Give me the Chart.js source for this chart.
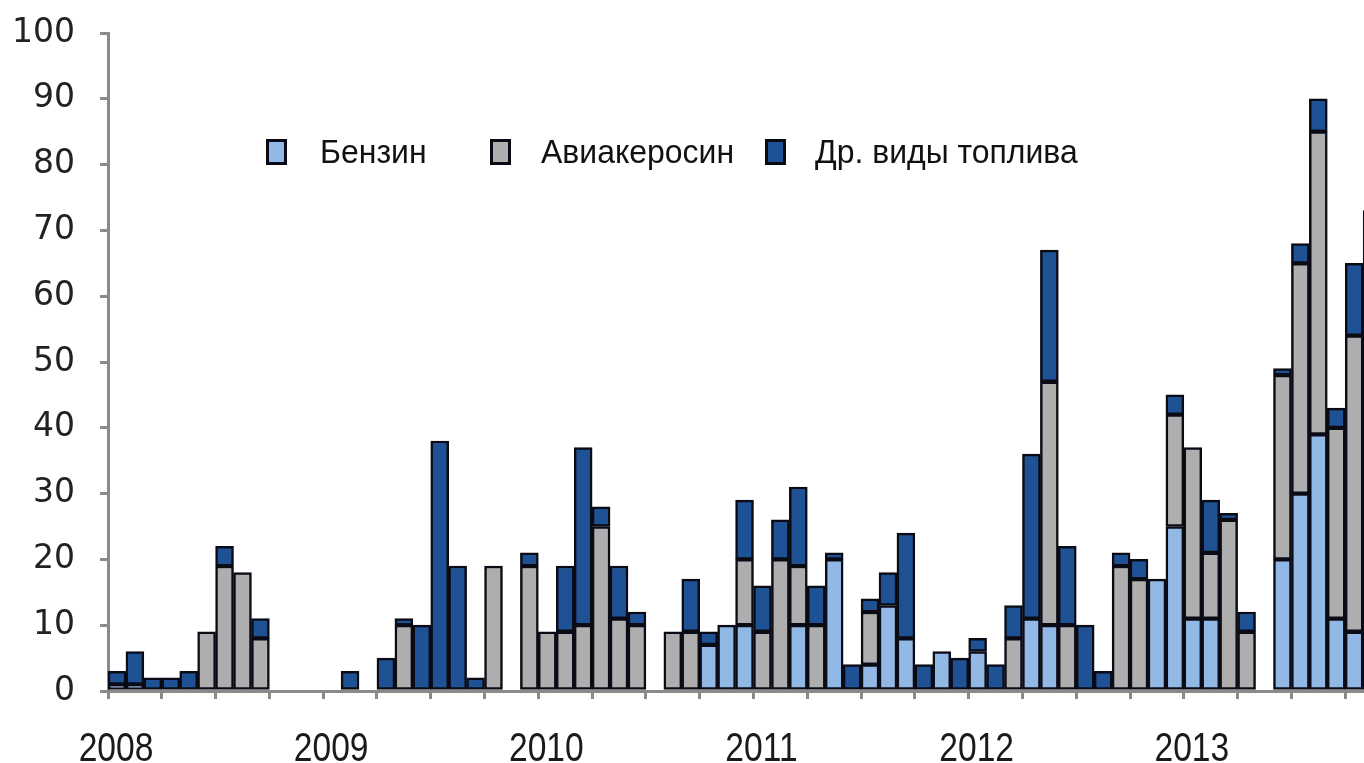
<!DOCTYPE html>
<html><head><meta charset="utf-8">
<script src="https://cdn.jsdelivr.net/npm/chart.js@4.4.1/dist/chart.umd.min.js"></script>
<style>
html,body{margin:0;padding:0;background:#fff;overflow:hidden;width:1364px;height:763px}
canvas{display:block}
</style></head>
<body><canvas id="c" width="1400" height="763"></canvas>
<script>
// Year tick labels (one every 12 months)
const years = ['2008','2009','2010','2011','2012','2013'];
const monthNames = ['01','02','03','04','05','06','07','08','09','10','11','12'];
const seriesNames = ['Бензин','Авиакеросин','Др. виды топлива'];
const seriesColors = ['#92b8e6','#aeaeae','#1f5195'];

// Monthly values, Jan 2008 .. Nov 2013
const benzin = [
  1,1,0,0,0,0,0,0,0,0,0,0,        // 2008
  0,0,0,0,0,0,0,0,0,0,0,0,        // 2009
  0,0,0,0,0,0,0,0,0,7,10,10,      // 2010
  0,0,10,0,20,0,4,13,8,0,6,0,     // 2011
  6,0,0,11,10,0,0,0,0,0,17,25,    // 2012
  11,11,0,0,0,20,30,39,11,9,10    // 2013
];
const kerosene = [
  0,0,0,0,0,9,19,18,8,0,0,0,      // 2008
  0,0,0,0,10,0,0,0,0,19,0,19,     // 2009
  9,9,10,25,11,10,0,9,9,0,0,10,   // 2010
  9,20,9,10,0,0,8,0,0,0,0,0,      // 2011
  0,0,8,0,37,10,0,0,19,17,0,17,   // 2012
  26,10,26,9,0,28,35,46,29,45,50  // 2013
];
const otherFuel = [
  2,5,2,2,3,0,3,0,3,0,0,0,        // 2008
  0,3,0,5,1,10,38,19,2,0,0,2,     // 2009
  0,10,27,3,8,2,0,0,8,2,0,9,      // 2010
  7,6,12,6,1,4,2,5,16,4,0,5,      // 2011
  2,4,5,25,20,12,10,3,2,3,0,3,    // 2012
  0,8,1,3,0,1,3,5,3,11,13         // 2013
];

const categories = [];
years.forEach(y => monthNames.forEach(m => categories.push(y + '-' + m)));

const toPoints = arr => arr.map((v, i) => ({ x: i + 0.5, y: v === 0 ? null : v }));
const allSeries = [benzin, kerosene, otherFuel];

const sansFam = "'Liberation Sans',Arial,sans-serif";

// draws horizontally condensed text (the original uses a narrow face)
function condensedText(ctx, text, x, y, sx, align) {
  ctx.save();
  ctx.translate(x, y);
  ctx.scale(sx, 1);
  ctx.textAlign = align;
  ctx.fillText(text, 0, 0);
  ctx.restore();
}

const extraText = {
  id: 'extraText',
  afterDraw(chart, args, opts) {
    const ctx = chart.ctx;
    ctx.save();
    // legend inside plot
    ctx.font = opts.legendFont;
    ctx.textBaseline = 'alphabetic';
    chart.data.datasets.forEach((ds, i) => {
      const it = opts.items[i];
      ctx.fillStyle = ds.backgroundColor;
      ctx.fillRect(it.bx, opts.by, opts.bw, opts.bh);
      ctx.lineWidth = 3;
      ctx.strokeStyle = '#0b0b16';
      ctx.strokeRect(it.bx + 1.5, opts.by + 1.5, opts.bw - 3, opts.bh - 3);
      ctx.fillStyle = '#111';
      condensedText(ctx, ds.label, it.tx, opts.ty, opts.legendScale, 'left');
    });
    // year labels on the x axis
    const xs = chart.scales.x;
    ctx.font = opts.yearFont;
    ctx.fillStyle = '#1a1a1a';
    years.forEach((y, k) => {
      const px = xs.getPixelForValue(k * 12) + opts.yearShift;
      condensedText(ctx, y, px, opts.yearBaseline, opts.yearScale, 'center');
    });
    ctx.restore();
  }
};

new Chart(document.getElementById('c'), {
  type: 'bar',
  data: {
    labels: categories,
    datasets: allSeries.map((arr, i) => ({
      label: seriesNames[i],
      data: toPoints(arr),
      backgroundColor: seriesColors[i],
      borderColor: '#0b0b16',
      borderWidth: 2.5,
      borderSkipped: false,
      barPercentage: 1,
      categoryPercentage: 1
    }))
  },
  options: {
    responsive: false,
    animation: false,
    devicePixelRatio: 1,
    layout: { padding: { top: 33, right: 1, bottom: 0, left: 0 } },
    plugins: {
      legend: { display: false },
      tooltip: { enabled: false },
      extraText: {
        legendFont: "34px " + sansFam, legendScale: 0.94,
        by: 139, bw: 21, bh: 26, ty: 163,
        items: [ { bx: 266, tx: 320 }, { bx: 490, tx: 541 }, { bx: 765, tx: 815 } ],
        yearFont: "40px " + sansFam, yearScale: 0.84, yearBaseline: 761, yearShift: 8
      }
    },
    scales: {
      x: {
        type: 'linear', stacked: true, min: 0, max: 72, offset: false,
        ticks: {
          stepSize: 3, autoSkip: false, maxRotation: 0, minRotation: 0, padding: 0,
          font: { size: 10 },
          callback: () => ''
        },
        grid: { drawOnChartArea: false, drawTicks: true, tickLength: 8, lineWidth: 3, color: '#8a8a8a', offset: false },
        border: { display: true, color: '#8a8a8a', width: 3 },
        afterFit: s => { s.height = 72; }
      },
      y: {
        stacked: true, min: 0, max: 100,
        ticks: { stepSize: 10, padding: 25, color: '#222', font: { family: "'DejaVu Sans',sans-serif", size: 33, lineHeight: 0.4 } },
        grid: { drawOnChartArea: false, drawTicks: true, tickLength: 8, lineWidth: 3, color: '#8a8a8a' },
        border: { display: true, color: '#8a8a8a', width: 3 },
        afterFit: s => { s.width = 108; }
      }
    }
  },
  plugins: [extraText]
});
</script>
</body></html>
